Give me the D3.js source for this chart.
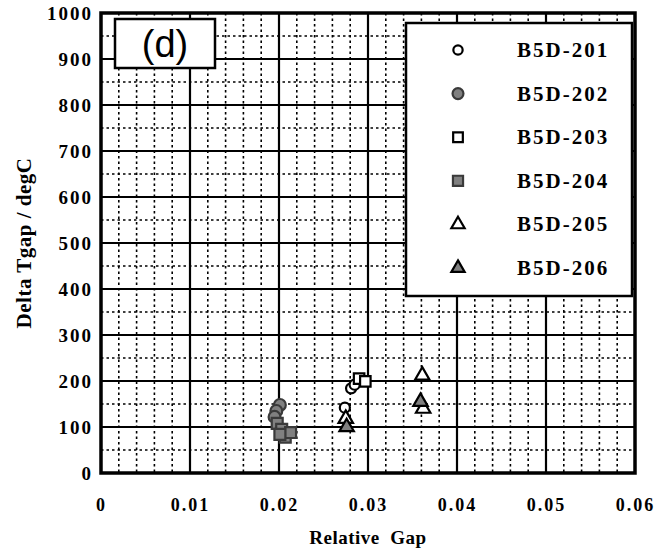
<!DOCTYPE html>
<html>
<head>
<meta charset="utf-8">
<script src="https://cdn.jsdelivr.net/npm/d3@7"></script>
<style>
  html, body { margin: 0; padding: 0; background: #fff; }
  svg { display: block; }
  .tick-label { font-family: "Liberation Serif", "Times New Roman", serif; font-weight: bold; }
</style>
</head>
<body>
<svg id="chart" width="654" height="554"></svg>
<script>
// Series: relative gap vs. gap temperature difference
const seriesNames = ["B5D-201", "B5D-202", "B5D-203", "B5D-204", "B5D-205", "B5D-206"];
const b5d201 = [[0.0281, 184], [0.0285, 192], [0.0274, 142]];
const b5d202 = [[0.0201, 148], [0.0197, 135], [0.0195, 122]];
const b5d203 = [[0.0290, 205], [0.0297, 199]];
const b5d204 = [[0.0198, 108], [0.0203, 95], [0.0207, 78], [0.0213, 88], [0.0201, 84]];
const b5d205 = [[0.0361, 212], [0.0362, 140], [0.0275, 118]];
const b5d206 = [[0.0359, 155], [0.0276, 100]];

const xTicks = [0, 0.01, 0.02, 0.03, 0.04, 0.05, 0.06];
const xTickLabels = ["0", "0.01", "0.02", "0.03", "0.04", "0.05", "0.06"];
const yTicks = [0, 100, 200, 300, 400, 500, 600, 700, 800, 900, 1000];

const svg = d3.select("#chart");
const W = 654, H = 554;
const plot = { left: 101, right: 635, top: 13, bottom: 473 };

const x = d3.scaleLinear().domain([0, 0.06]).range([plot.left, plot.right]);
const y = d3.scaleLinear().domain([0, 1000]).range([plot.bottom, plot.top]);

svg.append("rect").attr("width", W).attr("height", H).attr("fill", "#fff");

// Minor dotted grid
const g = svg.append("g");
const xMinor = d3.range(0, 0.0601, 0.002).filter(v => Math.abs(v / 0.01 - Math.round(v / 0.01)) > 1e-6);
const yMinor = d3.range(50, 1000, 100);
g.selectAll(".xminor").data(xMinor).join("line")
  .attr("x1", d => x(d)).attr("x2", d => x(d))
  .attr("y1", plot.top).attr("y2", plot.bottom)
  .attr("stroke", "#000").attr("stroke-width", 1.6).attr("stroke-dasharray", "2.5,3");
g.selectAll(".yminor").data(yMinor).join("line")
  .attr("y1", d => y(d)).attr("y2", d => y(d))
  .attr("x1", plot.left).attr("x2", plot.right)
  .attr("stroke", "#000").attr("stroke-width", 1.6).attr("stroke-dasharray", "2.5,3");

// Major solid grid
g.selectAll(".xmajor").data(xTicks.slice(1, -1)).join("line")
  .attr("x1", d => x(d)).attr("x2", d => x(d))
  .attr("y1", plot.top).attr("y2", plot.bottom)
  .attr("stroke", "#000").attr("stroke-width", 2.2);
g.selectAll(".ymajor").data(yTicks.slice(1, -1)).join("line")
  .attr("y1", d => y(d)).attr("y2", d => y(d))
  .attr("x1", plot.left).attr("x2", plot.right)
  .attr("stroke", "#000").attr("stroke-width", 2.2);

// Axes (labels only; the frame is drawn separately)
const xAxis = d3.axisBottom(x).tickValues(xTicks)
  .tickFormat((d, i) => xTickLabels[i]).tickSize(0).tickPadding(25);
const xa = svg.append("g").attr("transform", `translate(0,${plot.bottom})`).call(xAxis);
xa.select(".domain").remove();
xa.selectAll("text").attr("class", "tick-label").attr("font-size", 18)
  .attr("letter-spacing", "2px").attr("fill", "#000");

const yAxis = d3.axisLeft(y).tickValues(yTicks).tickFormat(d3.format("d"))
  .tickSize(0).tickPadding(8);
const ya = svg.append("g").attr("transform", `translate(${plot.left},0)`).call(yAxis);
ya.select(".domain").remove();
ya.selectAll("text").attr("class", "tick-label").attr("font-size", 19)
  .attr("letter-spacing", "2px").attr("fill", "#000");

// Frame
svg.append("rect")
  .attr("x", plot.left).attr("y", plot.top)
  .attr("width", plot.right - plot.left).attr("height", plot.bottom - plot.top)
  .attr("fill", "none").attr("stroke", "#000").attr("stroke-width", 3.5);

// Axis titles
svg.append("text")
  .attr("x", (plot.left + plot.right) / 2).attr("y", 544)
  .attr("text-anchor", "middle")
  .attr("font-family", "Liberation Serif, Times New Roman, serif")
  .attr("font-weight", "bold").attr("font-size", 19)
  .attr("letter-spacing", "0.5px")
  .attr("xml:space", "preserve")
  .text("Relative  Gap");

svg.append("text")
  .attr("transform", `translate(31,${(plot.top + plot.bottom) / 2}) rotate(-90)`)
  .attr("text-anchor", "middle")
  .attr("font-family", "Liberation Serif, Times New Roman, serif")
  .attr("font-weight", "bold").attr("font-size", 21)
  .attr("letter-spacing", "0.5px")
  .text("Delta Tgap / degC");

// Marker styles
const grey = "#808080";
const styles = [
  { shape: d3.symbolCircle, size: 80, fill: "#fff", stroke: "#000" },
  { shape: d3.symbolCircle, size: 110, fill: grey, stroke: "#3a3a3a" },
  { shape: d3.symbolSquare, size: 110, fill: "#fff", stroke: "#000" },
  { shape: d3.symbolSquare, size: 120, fill: grey, stroke: "#3a3a3a" },
  { shape: d3.symbolTriangle, size: 90, fill: "#fff", stroke: "#000" },
  { shape: d3.symbolTriangle, size: 90, fill: grey, stroke: "#000" }
];
const allSeries = [b5d201, b5d202, b5d203, b5d204, b5d205, b5d206];

const pts = svg.append("g");
allSeries.forEach((data, i) => {
  const s = styles[i];
  pts.selectAll(null).data(data).join("path")
    .attr("transform", d => `translate(${x(d[0])},${y(d[1])})`)
    .attr("d", d3.symbol().type(s.shape).size(s.size))
    .attr("fill", s.fill).attr("stroke", s.stroke).attr("stroke-width", 2.2);
});

// Panel label
const panel = svg.append("g");
panel.append("rect")
  .attr("x", 115).attr("y", 19).attr("width", 100).attr("height", 49)
  .attr("fill", "#fff").attr("stroke", "#000").attr("stroke-width", 2.5);
panel.append("text")
  .attr("x", 165).attr("y", 57).attr("text-anchor", "middle")
  .attr("font-family", "Liberation Sans, Arial, sans-serif")
  .attr("font-size", 38)
  .text("(d)");

// Legend
const legend = svg.append("g");
legend.append("rect")
  .attr("x", 406).attr("y", 23).attr("width", 226).attr("height", 273)
  .attr("fill", "#fff").attr("stroke", "#000").attr("stroke-width", 2.5);
const rowY = d3.scalePoint().domain(seriesNames).range([50, 268]);
seriesNames.forEach((name, i) => {
  const s = styles[i];
  legend.append("path")
    .attr("transform", `translate(458,${rowY(name)})`)
    .attr("d", d3.symbol().type(s.shape).size(s.size * 0.85))
    .attr("fill", s.fill).attr("stroke", s.stroke).attr("stroke-width", 2.2);
  legend.append("text")
    .attr("x", 517).attr("y", rowY(name) + 7)
    .attr("font-family", "Liberation Serif, Times New Roman, serif")
    .attr("font-weight", "bold").attr("font-size", 21)
    .attr("letter-spacing", "2px")
    .text(name);
});
</script>
</body>
</html>
